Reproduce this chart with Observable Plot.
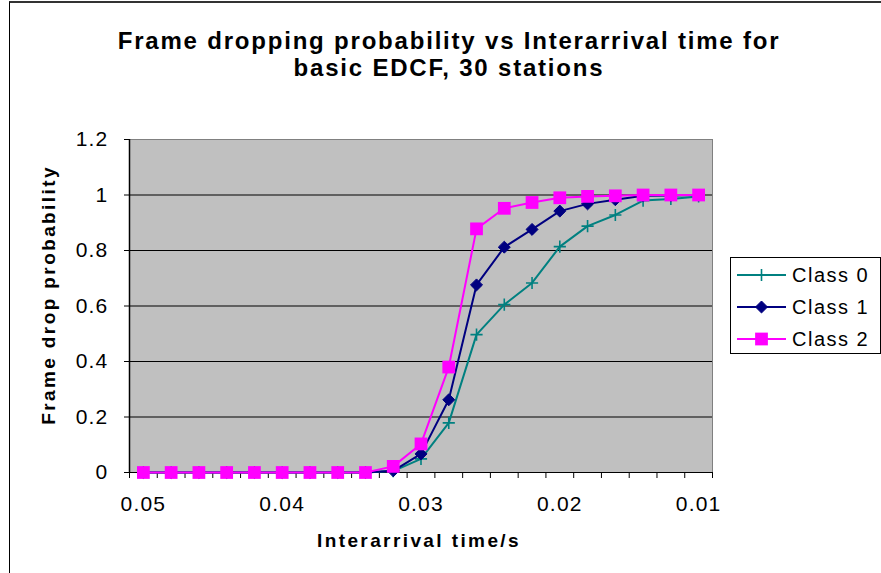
<!DOCTYPE html>
<html>
<head>
<meta charset="utf-8">
<script src="https://cdn.jsdelivr.net/npm/d3@7"></script>
<script src="https://cdn.jsdelivr.net/npm/@observablehq/plot@0.6"></script>
<style>
  body { margin: 0; background: #fff; }
  #chart { position: relative; width: 881px; height: 573px; overflow: hidden; background: #fff;
           font-family: "Liberation Sans", Arial, sans-serif; color: #000; }
  #chart svg.plot { position: absolute; left: 0; top: 0; }
  #border { position: absolute; left: 9px; top: 1px; width: 900px; height: 600px;
            border-left: 1.5px solid #000; border-top: 2px solid #333; box-sizing: border-box; }
  #title { position: absolute; left: 17px; top: 27px; width: 864px; text-align: center;
           font-weight: bold; font-size: 24px; line-height: 27px; letter-spacing: 1.8px; }
  #xtitle { position: absolute; left: 219px; width: 400px; top: 530px; text-align: center;
            font-weight: bold; font-size: 19px; letter-spacing: 2.4px; }
  #ytitle { position: absolute; left: 49px; top: 295px; transform: translate(-50%, -50%) rotate(-90deg);
            white-space: nowrap; font-weight: bold; font-size: 19px; letter-spacing: 2.4px; }
  #legend { position: absolute; left: 730px; top: 257px; width: 151px; height: 97px;
            border: 1px solid #000; box-sizing: border-box; background: #fff; }
  .lrow { position: absolute; left: 6px; height: 32px; display: flex; align-items: center; }
  .lrow span { font-size: 20px; letter-spacing: 1.5px; margin-left: 5px; }
</style>
</head>
<body>
<div id="chart">
  <div id="border"></div>
  <div id="title">Frame dropping probability vs Interarrival time for<br>basic EDCF, 30 stations</div>
  <div id="xtitle">Interarrival time/s</div>
  <div id="ytitle">Frame drop probability</div>
  <div id="legend"></div>
</div>
<script>
// ---- data ----
const interarrival = [0.05, 0.048, 0.046, 0.044, 0.042, 0.04, 0.038, 0.036, 0.034, 0.032,
                      0.03, 0.028, 0.026, 0.024, 0.022, 0.02, 0.018, 0.016, 0.014, 0.012, 0.01];
const class0 = [0, 0, 0, 0, 0, 0, 0, 0, 0, 0.005, 0.049, 0.179, 0.497, 0.605, 0.683, 0.814, 0.888, 0.928, 0.98, 0.986, 0.995];
const class1 = [0, 0, 0, 0, 0, 0, 0, 0, 0, 0.006, 0.067, 0.262, 0.676, 0.812, 0.876, 0.942, 0.968, 0.983, 0.997, 0.998, 1.0];
const class2 = [0, 0, 0, 0, 0, 0, 0, 0, 0, 0.022, 0.103, 0.38, 0.878, 0.952, 0.973, 0.99, 0.995, 0.997, 1.0, 1.0, 1.0];
const seriesNames = ["Class 0", "Class 1", "Class 2"];
const seriesValues = [class0, class1, class2];
const seriesColors = ["#008080", "#000080", "#FF00FF"];
const xTickLabels = [0.05, 0.04, 0.03, 0.02, 0.01];
const yTickLabels = [0, 0.2, 0.4, 0.6, 0.8, 1, 1.2];

// ---- styles per series (marker shapes) ----
const markers = [
  {symbol: "plus", r: 4, fill: "none", strokeWidth: 1.6},
  {symbol: "diamond2", r: 5.4, fill: "color", strokeWidth: 1},
  {symbol: "square", r: 7.2, fill: "color", strokeWidth: 0}
];

const rows = seriesNames.flatMap((name, i) =>
  interarrival.map((x, j) => ({series: name, x, y: seriesValues[i][j]})));

const half = (interarrival[0] - interarrival[1]) / 2;
const xDomain = [interarrival[0] + half, interarrival[interarrival.length - 1] - half];
const boundaries = interarrival.map(x => x + half).concat([xDomain[1]]);
const grid = yTickLabels.filter(v => v > 0 && v < yTickLabels[yTickLabels.length - 1]);

const seriesMarks = seriesNames.flatMap((name, i) => {
  const d = rows.filter(r => r.series === name);
  const m = markers[i];
  return [
    Plot.line(d, {x: "x", y: "y", stroke: seriesColors[i], strokeWidth: 2}),
    Plot.dot(d, {x: "x", y: "y", symbol: m.symbol, r: m.r,
                 fill: m.fill === "color" ? seriesColors[i] : "none",
                 stroke: seriesColors[i], strokeWidth: m.strokeWidth, fillOpacity: 1})
  ];
});

const plot = Plot.plot({
  width: 881,
  height: 573,
  marginLeft: 129,
  marginRight: 169,
  marginTop: 139,
  marginBottom: 101,
  x: {domain: xDomain},
  y: {domain: [0, yTickLabels[yTickLabels.length - 1]]},
  style: {fontFamily: "'Liberation Sans', Arial, sans-serif", fontSize: "21px", letterSpacing: "1.2px",
          color: "#000", background: "transparent", overflow: "visible"},
  marks: [
    Plot.frame({fill: "#C0C0C0", stroke: "#808080"}),
    Plot.ruleY(grid, {stroke: "#000", strokeWidth: 1}),
    Plot.ruleX([xDomain[0]], {stroke: "#000", strokeWidth: 1.5}),
    Plot.ruleY([0], {stroke: "#000", strokeWidth: 1}),
    Plot.axisY(yTickLabels, {tickSize: 5, tickPadding: 16, tickFormat: d => String(d), label: null, stroke: "#000"}),
    Plot.axisX(boundaries, {tickSize: 6, tickFormat: () => "", label: null, stroke: "#000"}),
    Plot.axisX(xTickLabels, {tickSize: 0, tickPadding: 24, tickFormat: d => String(d), label: null}),
    ...seriesMarks
  ]
});
plot.classList.add("plot");
document.getElementById("chart").insertBefore(plot, document.getElementById("title"));

// ---- legend ----
const legend = d3.select("#legend");
const symbolTypes = {plus: d3.symbolPlus, diamond2: d3.symbolDiamond2, square: d3.symbolSquare};
seriesNames.forEach((name, i) => {
  const row = legend.append("div").attr("class", "lrow").style("top", (1 + i * 32) + "px");
  const svg = row.append("svg").attr("width", 50).attr("height", 20);
  svg.append("line").attr("x1", 0).attr("x2", 49).attr("y1", 10).attr("y2", 10)
    .attr("stroke", seriesColors[i]).attr("stroke-width", 2);
  const m = markers[i];
  svg.append("path")
    .attr("transform", "translate(24.5,10)")
    .attr("d", d3.symbol(symbolTypes[m.symbol], Math.PI * m.r * m.r)())
    .attr("fill", m.fill === "color" ? seriesColors[i] : "none")
    .attr("stroke", seriesColors[i])
    .attr("stroke-width", m.strokeWidth);
  row.append("span").text(name);
});
</script>
</body>
</html>
